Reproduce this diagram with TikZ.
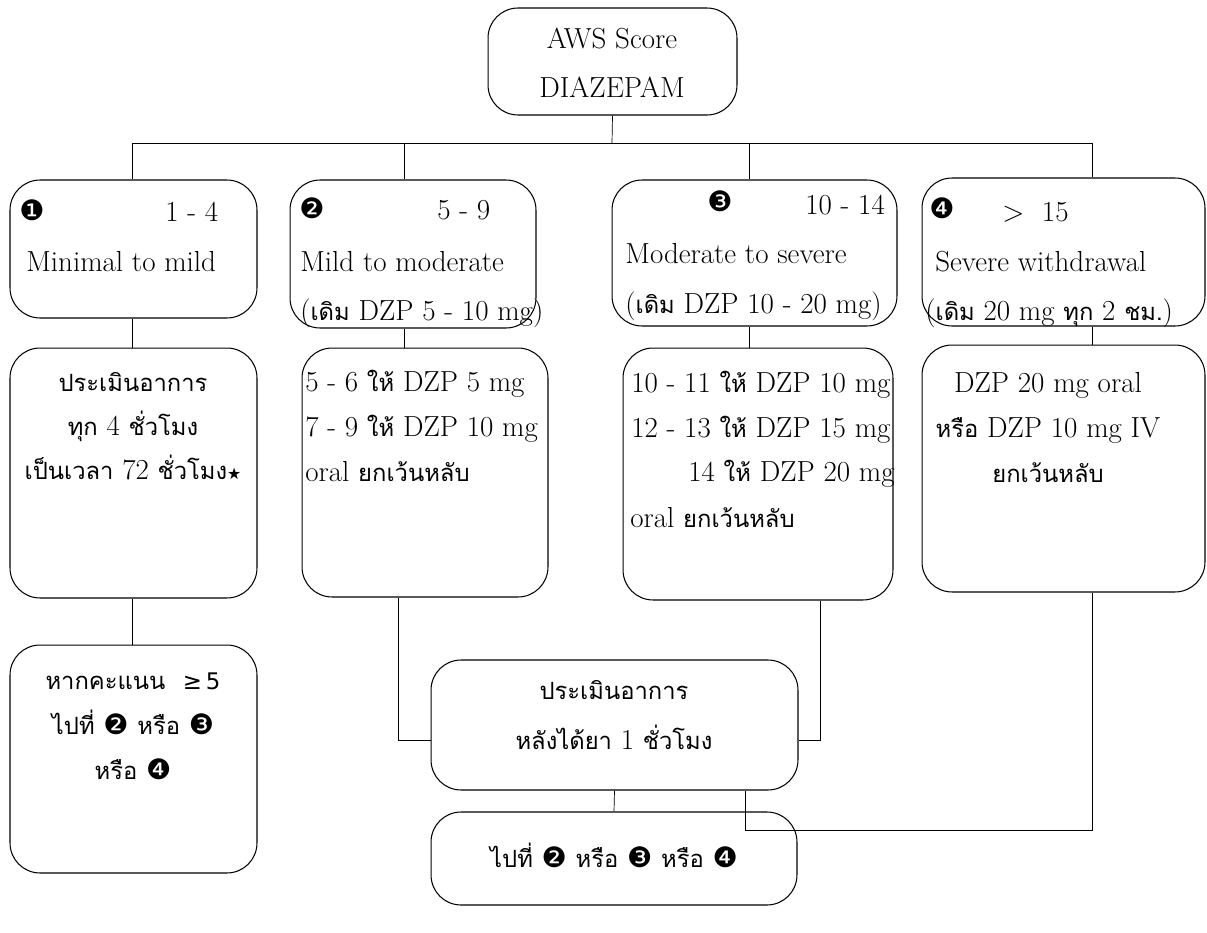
\documentclass[tikz,border=0pt]{standalone}
\usepackage{fontspec}
\newfontfamily\thaifont[Script=Thai,Scale=0.82]{Loma}
\newfontfamily\symfont{DejaVu Sans}
\newcommand\tha[1]{{\thaifont #1}}
\newcommand\dg[1]{{\symfont\fontsize{16}{18}\selectfont #1}}

\begin{document}
\begin{tikzpicture}[x=0.02cm,y=-0.02cm,
  box/.style={draw,rounded corners=0.6cm,inner sep=0pt,line width=0.6pt},
  txt/.style={anchor=base west,inner sep=0pt,font=\fontsize{16.5}{19}\selectfont},
  ctr/.style={txt,anchor=base}]
  \useasboundingbox (0,0) rectangle (1207,933);
  % boxes
  \node[box,minimum width=4.98cm,minimum height=2.14cm] (ntop) at (612.5,61.5) {};
  \node[box,minimum width=4.94cm,minimum height=2.76cm] (nr1) at (133.5,249) {};
  \node[box,minimum width=4.92cm,minimum height=2.96cm] (nr2) at (413,254) {};
  \node[box,minimum width=5.70cm,minimum height=2.92cm] (nr3) at (754.5,253) {};
  \node[box,minimum width=5.66cm,minimum height=2.96cm] (nr4) at (1063.5,252) {};
  \node[box,minimum width=4.94cm,minimum height=5.00cm] (ns1) at (133.5,473) {};
  \node[box,minimum width=4.92cm,minimum height=4.98cm] (ns2) at (425,472.5) {};
  \node[box,minimum width=5.40cm,minimum height=5.04cm] (ns3) at (758,474) {};
  \node[box,minimum width=5.66cm,minimum height=4.94cm] (ns4) at (1063.5,468.5) {};
  \node[box,minimum width=4.94cm,minimum height=4.56cm] (nt1) at (133.5,759) {};
  \node[box,minimum width=7.34cm,minimum height=2.60cm] (nre) at (614.5,725) {};
  \node[box,minimum width=7.32cm,minimum height=1.86cm] (ngo) at (614,858.5) {};
  % texts
  \node[ctr] (ntop1) at (612,49) {AWS Score};
  \node[ctr] (ntop2) at (612,97) {DIAZEPAM};
  \node[txt] (nr1a) at (19,220) {\dg{❶}};
  \node[txt] (nr1b) at (165,221) {1 - 4};
  \node[txt] (nr1c) at (26,271) {Minimal to mild};
  \node[txt] (nr2a) at (299,218) {\dg{❷}};
  \node[txt] (nr2b) at (437,219) {5 - 9};
  \node[txt] (nr2c) at (300,271) {Mild to moderate};
  \node[txt] (nr2d) at (300,320) {(\tha{เดิม} DZP 5 - 10 mg)};
  \node[txt] (nr3a) at (707,211) {\dg{❸}};
  \node[txt] (nr3b) at (805,214) {10 - 14};
  \node[txt] (nr3c) at (625,263) {Moderate to severe};
  \node[txt] (nr3d) at (625,313) {(\tha{เดิม} DZP 10 - 20 mg)};
  \node[txt] (nr4a) at (929,218) {\dg{❹}};
  \node[txt] (nr4b) at (1002,221) {>\ \ 15};
  \node[txt] (nr4c) at (935,271) {Severe withdrawal};
  \node[txt] (nr4d) at (925,320) {(\tha{เดิม} 20 mg \tha{ทุก} 2 \tha{ชม.})};
  \foreach \t [count=\i] in {\tha{ประเมินอาการ},\tha{ทุก} 4 \tha{ชั่วโมง},\tha{เป็นเวลา} 72 \tha{ชั่วโมง}\dg{\small★}}
    \node[ctr] (ns1-\i) at (133,347+44*\i) {\t};
  \foreach \t [count=\i] in {5 - 6 \tha{ให้} DZP 5 mg,7 - 9 \tha{ให้} DZP 10 mg,oral \tha{ยกเว้นหลับ}}
    \node[txt] (ns2-\i) at (305,346+45*\i) {\t};
  \foreach \t [count=\i] in {10 - 11 \tha{ให้} DZP 10 mg,12 - 13 \tha{ให้} DZP 15 mg}
    \node[txt] (ns3-\i) at (631,347+45*\i) {\t};
  \node[txt] (ns3-3) at (688,481) {14 \tha{ให้} DZP 20 mg};
  \node[txt] (ns3-4) at (630,527) {oral \tha{ยกเว้นหลับ}};
  \foreach \t [count=\i] in {DZP 20 mg oral,\tha{หรือ} DZP 10 mg IV,\tha{ยกเว้นหลับ}}
    \node[ctr] (ns4-\i) at (1048,347+45*\i) {\t};
  \foreach \t [count=\i] in {\tha{หากคะแนน}\ \ {\symfont\fontsize{13}{15}\selectfont≥\,5},\tha{ไปที่} \dg{❷} \tha{หรือ} \dg{❸},\tha{หรือ} \dg{❹}}
    \node[ctr] (nt1-\i) at (133,644+45*\i) {\t};
  \node[ctr] (nre1) at (614,699) {\tha{ประเมินอาการ}};
  \node[ctr] (nre2) at (614,749) {\tha{หลังได้ยา} 1 \tha{ชั่วโมง}};
  \node[ctr] (ngo1) at (614,867) {\tha{ไปที่} \dg{❷} \tha{หรือ} \dg{❸} \tha{หรือ} \dg{❹}};
  % connectors
  \coordinate (nbus) at (612,143);
  \coordinate (nd1) at (132,143);
  \coordinate (nd2) at (404,143);
  \coordinate (nd3) at (749,143);
  \coordinate (nd4) at (1092,143);
  \coordinate (nj2) at (398,740);
  \coordinate (nj3) at (820,740);
  \coordinate (nk4) at (745,830);
  \draw (ntop.south) -- (nbus);
  \draw (nd1) -- (nd4);
  \foreach \d/\n in {nd1/nr1,nd2/nr2,nd3/nr3,nd4/nr4}
    \draw (\d) -- (\d |- \n.north);
  \draw (nd1 |- nr1.south) -- (nd1 |- ns1.north);
  \draw (nd2 |- nr2.south) -- (nd2 |- ns2.north);
  \draw (nd3 |- nr3.south) -- (nd3 |- ns3.north);
  \draw (nd4 |- nr4.south) -- (nd4 |- ns4.north);
  \draw (nd1 |- ns1.south) -- (nd1 |- nt1.north);
  \draw (nj2 |- ns2.south) -- (nj2) -- (nj2 -| nre.west);
  \draw (nj3 |- ns3.south) -- (nj3) -- (nj3 -| nre.east);
  \draw (nd4 |- ns4.south) |- (nk4) -- (nk4 |- nre.south);
  \draw (nre.south) -- (ngo.north);
\end{tikzpicture}
\end{document}
